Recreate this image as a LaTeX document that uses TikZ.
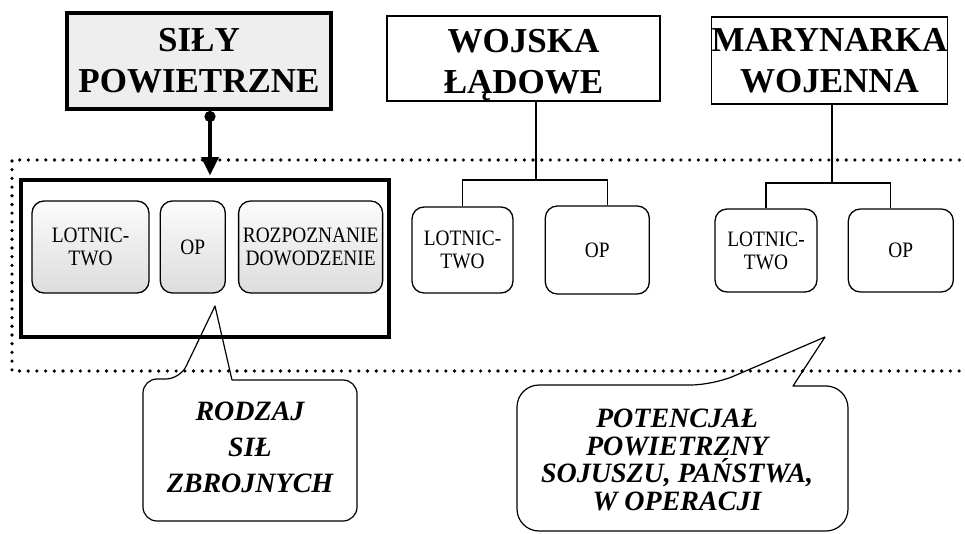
\documentclass[tikz,border=0pt]{standalone}
\usepackage{fontspec}
\setmainfont{Liberation Serif}
\newfontfamily\boxfont[FakeStretch=0.88]{Liberation Serif}
\usetikzlibrary{arrows.meta,positioning}

\begin{document}
\begin{tikzpicture}[x=1pt,y=-1pt,>={Triangle[width=17pt,length=18pt]},
	head node/.style={rectangle,draw,line width=1.5pt,align=center,inner sep=0pt,font=\fontsize{35}{41}\selectfont\bfseries},
	sub node/.style={rectangle,draw,rounded corners=12pt,line width=1.3pt,align=center,inner sep=0pt,font=\boxfont\fontsize{22}{23}\selectfont},
	shaded node/.style={sub node,top color=gray!3,bottom color=gray!27},
	note text/.style={align=center,inner sep=0pt,font=\fontsize{28}{36}\selectfont\bfseries\itshape},
	note line/.style={line width=1.2pt,line join=round},
	dot frame/.style={line width=3.6pt,line cap=round,dash pattern=on 0pt off 8.7pt}]

	\useasboundingbox (0,0) rectangle (965,534);

	\node[head node,line width=4pt,fill=gray!13,minimum width=264pt,minimum height=96pt] (sp) at (199,61) {SIŁY\\POWIETRZNE};
	\node[head node,minimum width=273pt,minimum height=85pt] (wl) at (523.5,58.5) {\rule{0pt}{29pt}WOJSKA\\Ł\smash{Ą}DOWE};
	\node[head node,minimum width=233pt,minimum height=87pt] (mw) at (829.5,60.5) {MARYNARKA\\WOJENNA};

	\draw[dot frame] (968,160) -- (12,160) -- (12,371) -- (968,371);

	\node[draw,line width=3.5pt,minimum width=368pt,minimum height=157pt] (rsz) at (205,258.5) {};
	\node[shaded node,minimum width=117pt,minimum height=92pt] (lot1) at (90.5,247) {LOTNIC-\\TWO};
	\node[shaded node,minimum width=65pt,minimum height=92pt] (op1) [right=10pt of lot1] {OP};
	\node[shaded node,minimum width=144pt,minimum height=92pt] (rd1) [right=12pt of op1] {ROZPOZNANIE\\DOWODZENIE};

	\node[sub node,minimum width=101pt,minimum height=86pt] (lotw) at (462.5,250) {LOTNIC-\\TWO};
	\node[sub node,minimum width=104pt,minimum height=88pt] (opw) [right=31pt of lotw] {OP};
	\node[sub node,minimum width=102pt,minimum height=83pt] (lotm) at (766,250.5) {LOTNIC-\\TWO};
	\node[sub node,minimum width=105pt,minimum height=83pt] (opm) [right=30pt of lotm] {OP};

	\coordinate (jw) at (536,180);
	\coordinate (jm) at (832,183);
	\draw[line width=1.2pt] (wl.south -| jw) -- (jw);
	\draw[line width=1.2pt] (lotw.north) |- (jw) -| ([xshift=10pt]opw.north);
	\draw[line width=1.2pt] (mw.south -| jm) -- (jm);
	\draw[line width=1.2pt] (lotm.north) |- (jm) -| ([xshift=-10pt]opm.north);

	\draw[{Circle[length=11pt]}->,line width=3.2pt,shorten >=3pt] ([xshift=11pt]sp.south) -- ([xshift=5pt]rsz.north);

	\node[note text] (rodzaj) at (250,447) {RODZAJ\\SIŁ\\ZBROJNYCH};
	\coordinate (tip1) at (215,306);
	\draw[note line] (180,379) -- (tip1) -- (232,380) [rounded corners=14pt] -- (357,380) -- (357,521) -- (143,521) -- (143,379) -- cycle;

	\node[note text,font=\fontsize{28}{27.5}\selectfont\bfseries\itshape] (potencjal) at (677,460) {POTENCJAŁ\\POWIETRZNY\\SOJUSZU, PAŃSTWA,\\W OPERACJI};
	\coordinate (tip2) at (825,337);
	\draw[note line] (713,385) -- (tip2) -- (793,386) [rounded corners=22pt] -- (848,386) -- (848,531) -- (517,531) -- (517,385) -- cycle;
\end{tikzpicture}
\end{document}
